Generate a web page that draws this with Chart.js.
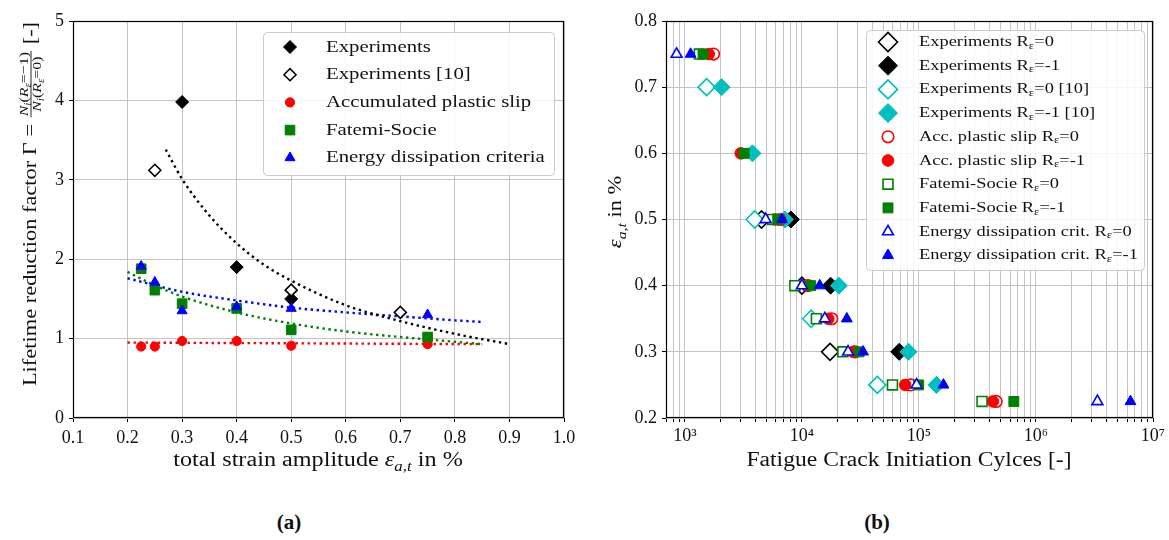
<!DOCTYPE html>
<html>
<head>
<meta charset="utf-8">
<script src="https://cdn.jsdelivr.net/npm/chart.js@4.4.1/dist/chart.umd.min.js"></script>
<style>
  body { margin: 0; background: #fff; }
  #wrap { position: relative; width: 1169px; height: 540px; }
  canvas { position: absolute; top: 0; }
  .cap { position: absolute; top: 510px; transform: translateX(-50%); font: bold 21px "Liberation Serif", serif; color: #111; }
</style>
</head>
<body>
<div id="wrap">
  <canvas id="chartA" width="590" height="480" style="left:0"></canvas>
  <canvas id="chartB" width="579" height="480" style="left:590px"></canvas>
  <div class="cap" style="left:289px">(a)</div>
  <div class="cap" style="left:877px">(b)</div>
</div>
<script>
// ---- (a) lifetime reduction factor vs strain amplitude ----
const strainLevelsA = [0.225, 0.25, 0.3, 0.4, 0.5, 0.75];
const slipGamma = [0.90, 0.90, 0.97, 0.97, 0.91, 0.93];
const fatemiGamma = [1.88, 1.61, 1.44, 1.38, 1.11, 1.02];
const energyGamma = [1.91, 1.71, 1.35, 1.40, 1.38, 1.30];
const expStrainA = [0.3, 0.4, 0.5];
const expGamma = [3.98, 1.90, 1.50];
const exp10StrainA = [0.25, 0.5, 0.7];
const exp10Gamma = [3.12, 1.61, 1.33];

// dotted fit curves
const expFitStrain = [0.27, 0.3, 0.35, 0.4, 0.45, 0.5, 0.6, 0.7, 0.8, 0.9];
const expFitGamma = [3.38, 3.01, 2.55, 2.20, 1.93, 1.73, 1.42, 1.22, 1.06, 0.93];
const fatemiFitStrain = [0.2, 0.25, 0.3, 0.4, 0.5, 0.6, 0.7, 0.8, 0.85];
const fatemiFitGamma = [1.84, 1.67, 1.53, 1.33, 1.19, 1.09, 1.02, 0.96, 0.93];
const energyFitStrain = [0.2, 0.3, 0.4, 0.5, 0.6, 0.7, 0.8, 0.85];
const energyFitGamma = [1.76, 1.59, 1.48, 1.39, 1.33, 1.28, 1.23, 1.21];
const slipFitStrain = [0.2, 0.85];
const slipFitGamma = [0.95, 0.93];

const strainTicksA = [0.1, 0.2, 0.3, 0.4, 0.5, 0.6, 0.7, 0.8, 0.9, 1.0];
const gammaTicks = [0, 1, 2, 3, 4, 5];

// ---- (b) strain amplitude vs crack initiation cycles ----
const expR0Strain = [0.5, 0.4, 0.3];
const expR0Cycles = [4520, 10000, 17400];
const expRm1Strain = [0.5, 0.4, 0.3];
const expRm1Cycles = [8050, 17600, 67800];
const litR0Strain = [0.7, 0.5, 0.35, 0.25];
const litR0Cycles = [1535, 3950, 12000, 44100];
const litRm1Strain = [0.7, 0.6, 0.5, 0.4, 0.3, 0.25];
const litRm1Cycles = [2060, 3780, 7150, 20700, 81400, 141000];
const slipR0Strain = [0.75, 0.5, 0.4, 0.35, 0.3, 0.25, 0.225];
const slipR0Cycles = [1760, 6500, 11300, 18000, 28500, 85000, 457000];
const slipRm1Strain = [0.75, 0.6, 0.5, 0.4, 0.35, 0.3, 0.25, 0.225];
const slipRm1Cycles = [1600, 3000, 5900, 11000, 16800, 27500, 76300, 428000];
const fatemiR0Strain = [0.75, 0.5, 0.4, 0.35, 0.3, 0.25, 0.225];
const fatemiR0Cycles = [1330, 5620, 8710, 13300, 22400, 59400, 346000];
const fatemiRm1Strain = [0.75, 0.6, 0.5, 0.4, 0.3, 0.25, 0.225];
const fatemiRm1Cycles = [1430, 3210, 6220, 11900, 30800, 99400, 647000];
const energyR0Strain = [0.75, 0.5, 0.4, 0.35, 0.3, 0.25, 0.225];
const energyR0Cycles = [850, 4900, 10000, 15700, 24800, 95500, 3350000];
const energyRm1Strain = [0.75, 0.5, 0.4, 0.35, 0.3, 0.25, 0.225];
const energyRm1Cycles = [1120, 6760, 14200, 24200, 33300, 162000, 6420000];

const strainTicksB = [0.2, 0.3, 0.4, 0.5, 0.6, 0.7, 0.8];
const cycleDecades = [1e3, 1e4, 1e5, 1e6, 1e7];
const cycleDecadeLabels = ['10³', '10⁴', '10⁵', '10⁶', '10⁷'];

const FONT = '"Liberation Serif", serif';
const STRETCH = 1.18;  // the original face is wider than Liberation Serif
const RED = '#ff0000', GREEN = '#008000', BLUE = '#0000ff', CYAN = '#00bfbf', BLACK = '#000000';

function pts(xs, ys) { return xs.map((x, i) => ({ x: x, y: ys[i] })); }

// text with subscripts: "R_ε" or "a_{i,t}"
function parseRich(str) {
  const parts = [];
  const re = /_\{([^}]*)\}|_(.)/g;
  let last = 0, m;
  while ((m = re.exec(str))) {
    if (m.index > last) parts.push({ t: str.slice(last, m.index) });
    parts.push({ t: m[1] !== undefined ? m[1] : m[2], sub: true });
    last = re.lastIndex;
  }
  if (last < str.length) parts.push({ t: str.slice(last) });
  return parts;
}
function fontFor(p, size) {
  const s = p.sub ? size * 0.7 : size;
  return (p.it ? 'italic ' : '') + s.toFixed(2) + 'px ' + FONT;
}
function richWidth(ctx, parts, size, sx) {
  sx = sx || STRETCH;
  let w = 0;
  parts.forEach(p => { ctx.font = fontFor(p, size); w += ctx.measureText(p.t).width * sx; });
  return w;
}
function drawRich(ctx, parts, x, y, size, sx) {
  sx = sx || STRETCH;
  parts.forEach(p => {
    ctx.font = fontFor(p, size);
    ctx.save();
    ctx.translate(x, p.sub ? y + size * 0.24 : y);
    ctx.scale(sx, 1);
    ctx.fillText(p.t, 0, 0);
    ctx.restore();
    x += ctx.measureText(p.t).width * sx;
  });
  return x;
}

// full box around the plot area
const framePlugin = {
  id: 'frame',
  beforeDatasetsDraw(chart) {
    const { ctx, chartArea: a } = chart;
    ctx.save();
    ctx.strokeStyle = '#000';
    ctx.lineWidth = 1.2;
    ctx.strokeRect(Math.round(a.left) + 0.5, Math.round(a.top) + 0.5,
      Math.round(a.right - a.left) - 1, Math.round(a.bottom - a.top) - 1);
    ctx.restore();
  }
};

// matplotlib-like legend drawn inside the plot
const boxLegend = {
  id: 'boxLegend',
  afterDatasetsDraw(chart, args, o) {
    const { ctx, chartArea: a } = chart;
    const x0 = a.left + o.left, y0 = a.top + o.top;
    ctx.save();
    ctx.beginPath();
    ctx.roundRect(x0 + 0.5, y0 + 0.5, o.width, o.height, 4);
    ctx.fillStyle = 'rgba(255,255,255,0.85)';
    ctx.fill();
    ctx.strokeStyle = '#cccccc';
    ctx.lineWidth = 1;
    ctx.stroke();
    let i = 0;
    chart.data.datasets.forEach(ds => {
      if (ds.inLegend === false) return;
      const y = y0 + o.first + i * o.step;
      ctx.fillStyle = ds.backgroundColor;
      ctx.strokeStyle = ds.borderColor;
      ctx.lineWidth = ds.borderWidth;
      Chart.helpers.drawPoint(ctx, {
        pointStyle: ds.pointStyle, radius: ds.legendRadius || ds.pointRadius,
        rotation: 0, borderWidth: ds.borderWidth
      }, x0 + o.markerX, y);
      ctx.fillStyle = '#111';
      ctx.textBaseline = 'middle';
      drawRich(ctx, parseRich(ds.label), x0 + o.textX, y, o.size, o.stretch);
      i++;
    });
    ctx.restore();
  }
};

// axis titles with math parts
const axisTitles = {
  id: 'axisTitles',
  afterDraw(chart, args, o) {
    const ctx = chart.ctx;
    ctx.save();
    ctx.fillStyle = '#111';
    ctx.textBaseline = 'alphabetic';
    (o.items || []).forEach(it => {
      ctx.save();
      ctx.translate(it.x, it.y);
      if (it.rotate) ctx.rotate(-Math.PI / 2);
      if (it.frac) {
        // Γ title: text, fraction, text
        const size = it.size, fs = it.fracSize;
        const wPre = richWidth(ctx, it.pre, size);
        const wNum = richWidth(ctx, it.num, fs), wDen = richWidth(ctx, it.den, fs);
        const wFrac = Math.max(wNum, wDen) + 4;
        const wPost = richWidth(ctx, it.post, size);
        let u = -(wPre + wFrac + wPost) / 2;
        drawRich(ctx, it.pre, u, it.base, size);
        u += wPre;
        ctx.strokeStyle = '#111';
        ctx.lineWidth = 0.9;
        ctx.beginPath();
        ctx.moveTo(u + 1, it.bar);
        ctx.lineTo(u + wFrac - 1, it.bar);
        ctx.stroke();
        drawRich(ctx, it.num, u + (wFrac - wNum) / 2, it.bar - 3, fs);
        drawRich(ctx, it.den, u + (wFrac - wDen) / 2, it.bar + 9.5, fs);
        u += wFrac;
        drawRich(ctx, it.post, u, it.base, size);
      } else {
        const w = richWidth(ctx, it.parts, it.size);
        drawRich(ctx, it.parts, -w / 2, 0, it.size);
      }
      ctx.restore();
    });
    ctx.restore();
  }
};

function marker(label, xs, ys, style, color, filled, radius, order, extra) {
  return Object.assign({
    label: label,
    data: pts(xs, ys),
    pointStyle: style,
    pointRadius: radius,
    backgroundColor: filled ? color : '#ffffff',
    borderColor: color,
    borderWidth: filled ? 1 : 1.6,
    order: order
  }, extra || {});
}
function fitLine(xs, ys, color) {
  return {
    label: 'fit',
    inLegend: false,
    data: pts(xs, ys),
    showLine: true,
    pointRadius: 0,
    borderColor: color,
    backgroundColor: color,
    borderWidth: 2.4,
    borderDash: [2.4, 3.6],
    cubicInterpolationMode: 'monotone',
    order: 50
  };
}

function drawCharts() {
  Chart.defaults.font.family = FONT;
  Chart.defaults.font.size = 18;
  Chart.defaults.color = '#111';

  const gridA = { color: '#c4c4c4', lineWidth: 1, tickColor: '#000', tickLength: 4 };

  new Chart(document.getElementById('chartA'), {
    type: 'scatter',
    data: {
      datasets: [
        marker('Experiments', expStrainA, expGamma, 'rectRot', BLACK, true, 6.5, 5),
        marker('Experiments [10]', exp10StrainA, exp10Gamma, 'rectRot', BLACK, false, 6, 4),
        marker('Accumulated plastic slip', strainLevelsA, slipGamma, 'circle', RED, true, 4.6, 3),
        marker('Fatemi-Socie', strainLevelsA, fatemiGamma, 'rect', GREEN, true, 6.8, 2),
        marker('Energy dissipation criteria', strainLevelsA, energyGamma, 'triangle', BLUE, true, 5.8, 1),
        fitLine(expFitStrain, expFitGamma, BLACK),
        fitLine(fatemiFitStrain, fatemiFitGamma, GREEN),
        fitLine(energyFitStrain, energyFitGamma, BLUE),
        fitLine(slipFitStrain, slipFitGamma, RED)
      ]
    },
    options: {
      responsive: false,
      animation: false,
      events: [],
      layout: { padding: { left: 0, top: 21, right: 26, bottom: 0 } },
      scales: {
        x: {
          type: 'linear', min: 0.1, max: 1.0,
          afterBuildTicks: s => { s.ticks = strainTicksA.map(v => ({ value: v })); },
          afterFit: s => { s.height = 62; },
          ticks: { callback: v => v.toFixed(1), maxRotation: 0, autoSkip: false, padding: 5, color: '#111' },
          grid: gridA,
          border: { display: false }
        },
        y: {
          type: 'linear', min: 0, max: 5,
          afterBuildTicks: s => { s.ticks = gammaTicks.map(v => ({ value: v })); },
          afterFit: s => { s.width = 73; },
          ticks: { callback: v => String(v), padding: 5, color: '#111' },
          grid: gridA,
          border: { display: false }
        }
      },
      plugins: {
        legend: { display: false },
        tooltip: { enabled: false },
        boxLegend: { left: 190, top: 11, width: 291, height: 143, first: 15, step: 27.7, markerX: 27, textX: 63, size: 17.6, stretch: 1.18 },
        axisTitles: {
          items: [
            { x: 318, y: 466, size: 20.5, parts: [{ t: 'total strain amplitude ' }, { t: 'ε', it: true }, { t: 'a,t', it: true, sub: true }, { t: ' in %' }] },
            {
              x: 0, y: 204, rotate: true, frac: true, size: 19, fracSize: 13.5, base: 36, bar: 31,
              pre: [{ t: 'Lifetime reduction factor Γ = ' }],
              num: [{ t: 'N', it: true }, { t: 'i', it: true, sub: true }, { t: '(' }, { t: 'R', it: true }, { t: 'ε', it: true, sub: true }, { t: '=−1)' }],
              den: [{ t: 'N', it: true }, { t: 'i', it: true, sub: true }, { t: '(' }, { t: 'R', it: true }, { t: 'ε', it: true, sub: true }, { t: '=0)' }],
              post: [{ t: ' [-]' }]
            }
          ]
        }
      }
    },
    plugins: [framePlugin, boxLegend, axisTitles]
  });

  // gridlines of the log axis at 1..9 x 10^k
  const cycleGrid = [];
  [100, 1e3, 1e4, 1e5, 1e6].forEach(d => {
    for (let k = 1; k <= 9; k++) if (d * k >= 690) cycleGrid.push(d * k);
  });
  cycleGrid.push(1e7);

  const gridB = { color: '#c4c4c4', lineWidth: 1, tickColor: '#000', tickLength: 4 };
  const n = 10;

  new Chart(document.getElementById('chartB'), {
    type: 'scatter',
    data: {
      datasets: [
        marker('Experiments R_ε=0', expR0Cycles, expR0Strain, 'rectRot', BLACK, false, 8.5, n - 0, { legendRadius: 9.5 }),
        marker('Experiments R_ε=-1', expRm1Cycles, expRm1Strain, 'rectRot', BLACK, true, 8.5, n - 1, { legendRadius: 9.5 }),
        marker('Experiments R_ε=0 [10]', litR0Cycles, litR0Strain, 'rectRot', CYAN, false, 8.5, n - 2, { legendRadius: 9.5 }),
        marker('Experiments R_ε=-1 [10]', litRm1Cycles, litRm1Strain, 'rectRot', CYAN, true, 8.5, n - 3, { legendRadius: 9.5 }),
        marker('Acc. plastic slip R_ε=0', slipR0Cycles, slipR0Strain, 'circle', RED, false, 5.8, n - 4),
        marker('Acc. plastic slip R_ε=-1', slipRm1Cycles, slipRm1Strain, 'circle', RED, true, 5.8, n - 5),
        marker('Fatemi-Socie R_ε=0', fatemiR0Cycles, fatemiR0Strain, 'rect', GREEN, false, 7, n - 6),
        marker('Fatemi-Socie R_ε=-1', fatemiRm1Cycles, fatemiRm1Strain, 'rect', GREEN, true, 7, n - 7),
        marker('Energy dissipation crit. R_ε=0', energyR0Cycles, energyR0Strain, 'triangle', BLUE, false, 6.3, n - 8),
        marker('Energy dissipation crit. R_ε=-1', energyRm1Cycles, energyRm1Strain, 'triangle', BLUE, true, 6.3, n - 9)
      ]
    },
    options: {
      responsive: false,
      animation: false,
      events: [],
      layout: { padding: { left: 0, top: 21, right: 16, bottom: 0 } },
      scales: {
        x: {
          type: 'logarithmic', min: 690, max: 1e7,
          afterBuildTicks: s => { s.ticks = cycleGrid.map(v => ({ value: v })); },
          afterFit: s => { s.height = 62; },
          ticks: {
            callback: v => { const k = cycleDecades.indexOf(v); return k >= 0 ? cycleDecadeLabels[k] : ''; },
            maxRotation: 0, autoSkip: false, padding: 3, color: '#111'
          },
          grid: gridB,
          border: { display: false }
        },
        y: {
          type: 'linear', min: 0.2, max: 0.8,
          afterBuildTicks: s => { s.ticks = strainTicksB.map(v => ({ value: v })); },
          afterFit: s => { s.width = 76; },
          ticks: { callback: v => v.toFixed(1), padding: 5, color: '#111' },
          grid: gridB,
          border: { display: false }
        }
      },
      plugins: {
        legend: { display: false },
        tooltip: { enabled: false },
        boxLegend: { left: 200, top: 9, width: 278, height: 240, first: 12, step: 23.7, markerX: 22, textX: 53, size: 15.6 },
        axisTitles: {
          items: [
            { x: 319, y: 466, size: 20, parts: [{ t: 'Fatigue Crack Initiation Cylces [-]' }] },
            { x: 31, y: 212, rotate: true, size: 19, parts: [{ t: 'ε', it: true }, { t: 'a,t', it: true, sub: true }, { t: ' in %' }] }
          ]
        }
      }
    },
    plugins: [framePlugin, boxLegend, axisTitles]
  });
}

Promise.all([
  document.fonts.load('18px "Liberation Serif"'),
  document.fonts.load('italic 18px "Liberation Serif"')
]).then(drawCharts, drawCharts);
</script>
</body>
</html>
